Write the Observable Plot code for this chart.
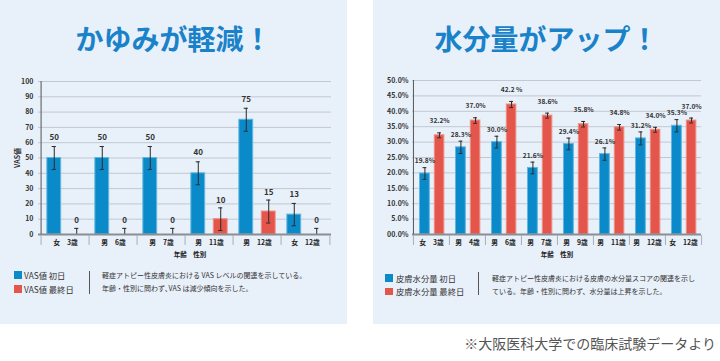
<!DOCTYPE html>
<html><head><meta charset="utf-8">
<script src="https://cdn.jsdelivr.net/npm/d3@7"></script>
<script src="https://cdn.jsdelivr.net/npm/@observablehq/plot@0.6"></script>
<style>
body{margin:0;background:#fff;font-family:"Noto Sans CJK JP","Noto Sans",sans-serif;}
#page{position:relative;width:720px;height:361px;overflow:hidden;background:#fff;}
.panel{position:absolute;top:0;height:324px;width:347px;background:#e8f0fa;}
.title{position:absolute;left:0;width:100%;top:19px;text-align:center;font-size:28px;line-height:38px;color:#1a82c9;font-weight:700;letter-spacing:0px;}
.chart{position:absolute;left:0;top:70px;}
.axlab{position:absolute;top:249px;font-size:6.5px;font-weight:700;color:#222;transform:translateX(-50%);line-height:10px;white-space:nowrap;}
.leg{position:absolute;font-size:8.3px;color:#333;line-height:10px;white-space:nowrap;}
.sw{position:absolute;width:8px;height:8px;}
.sep{position:absolute;width:1px;background:#555;}
.desc{position:absolute;font-size:7px;line-height:13px;color:#333;white-space:nowrap;}
.note{position:absolute;right:4px;top:333px;font-size:14px;line-height:20px;color:#555;white-space:nowrap;}
</style>
</head><body>
<div id="page">
  <div class="panel" id="p1" style="left:0">
    <div class="title">かゆみが軽減！</div>
    <div class="chart" id="c1"></div>
  </div>
  <div class="panel" id="p2" style="left:373px">
    <div class="title">水分量がアップ！</div>
    <div class="chart" id="c2"></div>
  </div>
  <div class="note">※大阪医科大学での臨床試験データより</div>
</div>
<script>
// ---------- data: left chart (VAS) ----------
const vasGroups = ["女　3歳","男　6歳","男　7歳","男　11歳","男　12歳","女　12歳"];
const vasFirst = [50, 50, 50, 40, 75, 13];
const vasLast = [0, 0, 0, 10, 15, 0];
const vasFirstErr = [7.5, 7.5, 7.5, 7.5, 7.5, 7.3];
const vasLastErr = [4, 4, 4, 7.4, 7.5, 4];
const vasFirstLabels = ["50","50","50","40","75","13"];
const vasLastLabels = ["0","0","0","10","15","0"];
const vasTicks = [0,10,20,30,40,50,60,70,80,90,100];
const vasTickLabels = ["0","10","20","30","40","50","60","70","80","90","100"];
const vasSeries = ["VAS値 初日","VAS値 最終日"];
const vasYLabel = "VAS値";
const vasXTitle = "年齢　性別";
const vasDesc = ["軽症アトピー性皮膚炎における VAS レベルの関連を示している。","年齢・性別に問わず､VAS は減少傾向を示した。"];

// ---------- data: right chart (moisture) ----------
const mGroups = ["女　3歳","男　4歳","男　6歳","男　7歳","男　9歳","男　11歳","男　12歳","女　12歳"];
const mFirst = [19.8, 28.3, 30.0, 21.6, 29.4, 26.1, 31.2, 35.3];
const mLast = [32.2, 37.0, 42.2, 38.6, 35.8, 34.8, 34.0, 37.0];
const mFirstErr = [1.9, 2.0, 1.9, 1.9, 1.9, 2.0, 2.1, 2.0];
const mLastErr = [0.8, 0.9, 1.0, 0.8, 0.9, 0.9, 0.8, 0.8];
const mFirstLabels = ["19.8%","28.3%","30.0%","21.6%","29.4%","26.1%","31.2%","35.3%"];
const mLastLabels = ["32.2%","37.0%","42.2 %","38.6%","35.8%","34.8%","34.0%","37.0%"];
const mTicks = [0,5,10,15,20,25,30,35,40,45,50];
const mTickLabels = ["00.0%","5.0%","10.0%","15.0%","20.0%","25.0%","30.0%","35.0%","40.0%","45.0%","50.0%"];
const mSeries = ["皮膚水分量 初日","皮膚水分量 最終日"];
const mXTitle = "年齢　性別";
const mDesc = ["軽症アトピー性皮膚炎における皮膚の水分量スコアの関連を示し","ている。年齢・性別に問わず、水分量は上昇を示した。"];

const BLUE = "#0a8ac8", BLUE_EDGE = "#62b5e3";
const RED = "#e4564b", RED_EDGE = "#f08c82";

function makeChart(cfg) {
  const {groups, first, last, fErr, lErr, fLab, lLab, ticks, tickLabels, yMax, W, H, ml, mr, mt, mb, bpos, rpos, ylabel, valSize} = cfg;
  const bw = (W - ml - mr) / groups.length;
  const rows = groups.map((g, i) => ({group: g, first: first[i], last: last[i], fe: fErr[i], le: lErr[i], fl: fLab[i], ll: lLab[i]}));
  const bc = (bpos[0] + bpos[1]) / 2 * bw, rc = (rpos[0] + rpos[1]) / 2 * bw;
  const cap = cfg.cap;
  const tf = d => tickLabels[ticks.indexOf(d)];
  const series = [
    {y: "first", e: "fe", t: "fl", pos: bpos, c: bc, fill: BLUE, stroke: BLUE_EDGE, dy: cfg.dyB},
    {y: "last", e: "le", t: "ll", pos: rpos, c: rc, fill: RED, stroke: RED_EDGE, dy: cfg.dyR}
  ];
  const marks = [
    Plot.gridY(ticks, {stroke: "#c3c8d0", strokeOpacity: 1, strokeWidth: 1})
  ];
  for (const s of series) {
    marks.push(Plot.barY(rows, {x: "group", y: s.y, fill: s.fill, stroke: s.stroke, strokeWidth: 1,
      insetLeft: s.pos[0] * bw, insetRight: (1 - s.pos[1]) * bw}));
  }
  for (const s of series) {
    const lo = d => Math.max(0, d[s.y] - d[s.e]);
    const hi = d => d[s.y] + d[s.e];
    marks.push(Plot.ruleX(rows, {x: "group", y1: lo, y2: hi, dx: s.c - bw / 2, stroke: "#2a2a2a", strokeWidth: 1}));
    marks.push(Plot.tickY(rows, {x: "group", y: hi, insetLeft: s.c - cap, insetRight: bw - s.c - cap, stroke: "#2a2a2a", strokeWidth: 1}));
    marks.push(Plot.tickY(rows.filter(d => d[s.y] - d[s.e] > 0), {x: "group", y: lo, insetLeft: s.c - cap, insetRight: bw - s.c - cap, stroke: "#2a2a2a", strokeWidth: 1}));
    marks.push(Plot.text(rows, {x: "group", y: hi, text: s.t, dx: s.c - bw / 2, dy: s.dy, fontSize: valSize, fontWeight: "bold", fill: "#333",
      letterSpacing: cfg.valSpacing}));
  }
  marks.push(
    Plot.ruleY([0], {stroke: "#8a8d92", strokeWidth: 2}),
    Plot.ruleX([groups[0]], {x: d => d, dx: -bw / 2, stroke: "#555", strokeWidth: 1}),
    Plot.ruleX(groups, {x: d => d, dx: -bw / 2, y1: 0, y2: 0, insetTop: 1, insetBottom: -11, stroke: "#a8aeb8"}),
    Plot.ruleX([groups[groups.length - 1]], {x: d => d, dx: bw / 2, y1: 0, y2: 0, insetTop: 1, insetBottom: -11, stroke: "#a8aeb8"}),
    Plot.axisY(ticks, {tickSize: 0, tickPadding: cfg.tickPad, tickFormat: tf, fontWeight: "bold", fill: "#333", fontSize: 7,
      label: ylabel, labelAnchor: "center", labelOffset: 23, labelArrow: "none"}),
    Plot.axisX({tickSize: 0, tickPadding: 6, label: null, fill: "#222", fontSize: 6.8, fontWeight: "bold"})
  );
  return Plot.plot({
    width: W, height: H, marginLeft: ml, marginRight: mr, marginTop: mt, marginBottom: mb,
    x: {type: "band", domain: groups, padding: 0, label: null},
    y: {domain: [0, yMax], label: null},
    style: {background: "transparent", fontFamily: "'Noto Sans CJK JP', sans-serif", fontSize: "7px", overflow: "visible"},
    marks
  });
}

function addLegend(panel, cfg) {
  const p = document.getElementById(panel);
  cfg.series.forEach((name, i) => {
    const sw = document.createElement("div");
    sw.className = "sw";
    sw.style.left = cfg.swX + "px";
    sw.style.top = (cfg.swY + i * cfg.step) + "px";
    sw.style.width = sw.style.height = cfg.swS + "px";
    sw.style.background = i === 0 ? BLUE : RED;
    p.appendChild(sw);
    const t = document.createElement("div");
    t.className = "leg";
    t.textContent = name;
    t.style.left = cfg.txtX + "px";
    t.style.top = (cfg.swY + i * cfg.step + cfg.swS / 2 - 5) + "px";
    p.appendChild(t);
  });
  const sep = document.createElement("div");
  sep.className = "sep";
  sep.style.left = cfg.sepX + "px";
  sep.style.top = cfg.sepY + "px";
  sep.style.height = cfg.sepH + "px";
  p.appendChild(sep);
  const d = document.createElement("div");
  d.className = "desc";
  d.style.left = cfg.descX + "px";
  d.style.top = cfg.descY + "px";
  d.innerHTML = cfg.desc.join("<br>");
  p.appendChild(d);
  const ax = document.createElement("div");
  ax.className = "axlab";
  ax.style.left = cfg.axX + "px";
  ax.textContent = cfg.axTitle;
  p.appendChild(ax);
}

document.getElementById("c1").appendChild(makeChart({
  groups: vasGroups, first: vasFirst, last: vasLast, fErr: vasFirstErr, lErr: vasLastErr,
  fLab: vasFirstLabels, lLab: vasLastLabels, ticks: vasTicks, tickLabels: vasTickLabels, yMax: 100,
  W: 347, H: 185, ml: 38, mr: 16, mt: 11, mb: 21, bpos: [0.12, 0.42], rpos: [0.58, 0.88],
  ylabel: vasYLabel, valSize: 8, valSpacing: "0px", cap: 2.5, tickPad: 5, dyB: -9, dyR: -7.5
}));
document.getElementById("c2").appendChild(makeChart({
  groups: mGroups, first: mFirst, last: mLast, fErr: mFirstErr, lErr: mLastErr,
  fLab: mFirstLabels, lLab: mLastLabels, ticks: mTicks, tickLabels: mTickLabels, yMax: 50,
  W: 347, H: 185, ml: 39, mr: 19, mt: 10, mb: 21, bpos: [0.18, 0.455], rpos: [0.59, 0.857],
  ylabel: null, valSize: 6.6, valSpacing: "-0.25px", cap: 2, tickPad: 4, dyB: -6.5, dyR: -11.5
}));
addLegend("p1", {series: vasSeries, swX: 14, swY: 271, step: 14, swS: 8, txtX: 24, sepX: 89, sepY: 271, sepH: 23,
  descX: 102, descY: 269, desc: vasDesc, axX: 190, axTitle: vasXTitle});
addLegend("p2", {series: mSeries, swX: 12, swY: 274, step: 13.5, swS: 7.5, txtX: 23, sepX: 105, sepY: 272, sepH: 23,
  descX: 119, descY: 272, desc: mDesc, axX: 184, axTitle: mXTitle});
</script>
</body></html>
